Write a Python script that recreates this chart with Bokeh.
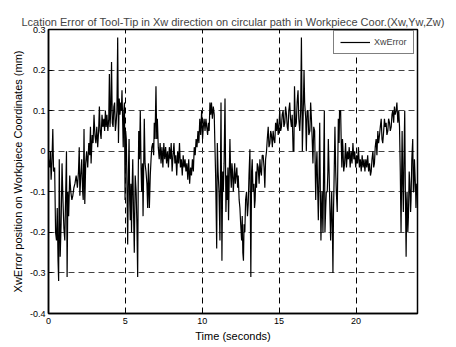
from bokeh.plotting import figure
from bokeh.models import FixedTicker, Legend, LegendItem
from bokeh.embed import file_html
from bokeh.resources import INLINE

# Tool-tip location error in Xw (mm) versus time (s)
time_s = [
    0.00, 0.08, 0.12, 0.17, 0.22, 0.28, 0.33, 0.40, 0.46, 0.52, 0.57, 0.62, 0.66, 0.70, 0.76, 0.82,
    0.88, 0.94, 1.00, 1.06, 1.12, 1.17, 1.21, 1.26, 1.31, 1.38, 1.45, 1.52, 1.58, 1.65, 1.72, 1.80,
    1.88, 1.95, 2.00, 2.04, 2.10, 2.16, 2.22, 2.26, 2.31, 2.36, 2.42, 2.48, 2.55, 2.62, 2.68, 2.73,
    2.77, 2.84, 2.90, 2.96, 3.02, 3.08, 3.14, 3.20, 3.26, 3.31, 3.36, 3.42, 3.48, 3.54, 3.60, 3.65,
    3.70, 3.75, 3.80, 3.86, 3.92, 3.96, 4.00, 4.05, 4.10, 4.15, 4.20, 4.25, 4.30, 4.35, 4.40, 4.45,
    4.50, 4.55, 4.60, 4.65, 4.70, 4.74, 4.78, 4.82, 4.86, 4.90, 4.94, 4.98, 5.02, 5.06, 5.11, 5.15,
    5.20, 5.24, 5.28, 5.32, 5.36, 5.40, 5.44, 5.48, 5.53, 5.58, 5.64, 5.70, 5.75, 5.80, 5.84, 5.87,
    5.92, 5.97, 6.02, 6.06, 6.11, 6.15, 6.19, 6.23, 6.28, 6.34, 6.40, 6.45, 6.50, 6.56, 6.62, 6.67,
    6.72, 6.78, 6.84, 6.88, 6.93, 6.99, 7.04, 7.08, 7.14, 7.20, 7.26, 7.32, 7.38, 7.44, 7.50, 7.56,
    7.62, 7.68, 7.74, 7.80, 7.86, 7.92, 7.98, 8.04, 8.10, 8.16, 8.22, 8.28, 8.34, 8.40, 8.46, 8.52,
    8.58, 8.64, 8.70, 8.76, 8.82, 8.88, 8.94, 9.00, 9.06, 9.12, 9.18, 9.24, 9.30, 9.36, 9.42, 9.48,
    9.54, 9.60, 9.66, 9.72, 9.78, 9.84, 9.90, 9.96, 10.02, 10.07, 10.12, 10.18, 10.24, 10.29, 10.35, 10.40,
    10.45, 10.50, 10.55, 10.60, 10.66, 10.72, 10.78, 10.82, 10.87, 10.94, 10.98, 11.03, 11.09, 11.15, 11.22, 11.28,
    11.33, 11.37, 11.42, 11.48, 11.54, 11.59, 11.63, 11.67, 11.71, 11.76, 11.80, 11.85, 11.89, 11.93, 11.97, 12.02,
    12.06, 12.11, 12.15, 12.20, 12.25, 12.30, 12.34, 12.40, 12.45, 12.50, 12.56, 12.60, 12.64, 12.68, 12.72, 12.77,
    12.82, 12.88, 12.94, 12.99, 13.04, 13.10, 13.16, 13.21, 13.25, 13.30, 13.36, 13.40, 13.44, 13.49, 13.53, 13.58,
    13.64, 13.70, 13.75, 13.80, 13.85, 13.90, 13.96, 14.02, 14.07, 14.12, 14.18, 14.23, 14.29, 14.34, 14.40, 14.45,
    14.50, 14.56, 14.61, 14.66, 14.72, 14.77, 14.83, 14.88, 14.94, 15.00, 15.04, 15.10, 15.15, 15.20, 15.26, 15.31,
    15.37, 15.42, 15.48, 15.53, 15.58, 15.63, 15.69, 15.74, 15.80, 15.85, 15.91, 15.96, 16.00, 16.06, 16.12, 16.17,
    16.23, 16.28, 16.34, 16.40, 16.45, 16.51, 16.56, 16.62, 16.66, 16.73, 16.77, 16.82, 16.88, 16.93, 17.00, 17.05,
    17.10, 17.15, 17.20, 17.25, 17.31, 17.38, 17.42, 17.46, 17.50, 17.55, 17.60, 17.64, 17.68, 17.72, 17.76, 17.79,
    17.85, 17.90, 17.94, 17.98, 18.03, 18.07, 18.13, 18.17, 18.20, 18.25, 18.29, 18.35, 18.39, 18.42, 18.46, 18.50,
    18.54, 18.57, 18.63, 18.68, 18.72, 18.78, 18.82, 18.85, 18.90, 18.93, 19.00, 19.04, 19.08, 19.12, 19.15, 19.20,
    19.26, 19.32, 19.38, 19.44, 19.50, 19.56, 19.62, 19.68, 19.74, 19.80, 19.86, 19.92, 19.98, 20.04, 20.10, 20.16,
    20.22, 20.28, 20.34, 20.40, 20.46, 20.52, 20.58, 20.64, 20.70, 20.76, 20.82, 20.88, 20.94, 20.99, 21.04, 21.10,
    21.15, 21.20, 21.25, 21.31, 21.36, 21.42, 21.47, 21.53, 21.58, 21.64, 21.69, 21.74, 21.80, 21.85, 21.90, 21.96,
    22.01, 22.07, 22.12, 22.18, 22.23, 22.29, 22.34, 22.39, 22.45, 22.50, 22.55, 22.61, 22.66, 22.72, 22.78, 22.83,
    22.88, 22.93, 22.97, 23.00, 23.04, 23.08, 23.12, 23.17, 23.21, 23.26, 23.30, 23.32, 23.37, 23.41, 23.46, 23.50,
    23.55, 23.58, 23.63, 23.69, 23.73, 23.76, 23.80, 23.84, 23.88, 23.90, 23.95, 24.00,
]

xw_error = [
    -0.02, -0.04, 0.00, -0.07, -0.03, 0.055, -0.05, -0.04, -0.20, -0.22, -0.14, -0.27, -0.32, -0.02, -0.26, -0.18,
    -0.03, -0.12, -0.19, -0.22, -0.10, 0.00, -0.31, -0.10, -0.16, -0.06, -0.10, -0.12, -0.11, -0.09, -0.08, -0.06,
    -0.09, -0.05, 0.01, -0.11, -0.06, -0.02, -0.10, -0.12, 0.055, -0.13, -0.03, 0.00, -0.04, 0.02, -0.01, 0.06,
    -0.03, 0.04, 0.02, 0.09, 0.04, 0.02, 0.06, 0.01, 0.05, 0.11, 0.05, 0.03, 0.09, 0.06, 0.08, 0.05,
    0.10, 0.06, 0.09, 0.05, 0.08, 0.19, 0.06, 0.10, 0.22, 0.07, 0.06, 0.11, 0.12, 0.05, 0.07, 0.10,
    0.28, 0.02, 0.13, 0.09, 0.12, 0.10, 0.15, 0.08, 0.01, 0.10, 0.12, -0.12, 0.05, 0.03, -0.10, -0.23,
    -0.05, 0.03, -0.12, -0.17, -0.08, -0.20, -0.09, -0.02, -0.15, -0.25, -0.06, -0.10, -0.18, -0.31, -0.05, 0.05,
    -0.02, 0.10, -0.04, -0.10, -0.03, -0.16, -0.04, 0.08, -0.03, -0.05, -0.08, -0.14, -0.03, -0.14, -0.06, -0.02,
    0.01, 0.02, -0.01, 0.07, 0.03, 0.16, 0.03, 0.08, 0.01, -0.02, 0.02, -0.03, 0.01, -0.04, 0.02, -0.02,
    0.01, -0.03, 0.00, -0.04, 0.01, -0.02, 0.02, -0.05, -0.01, 0.02, -0.03, -0.01, -0.06, 0.00, -0.03, 0.02,
    -0.04, -0.02, -0.06, -0.01, -0.04, -0.02, -0.05, -0.03, -0.07, -0.02, -0.08, -0.04, -0.06, -0.02, -0.05, 0.01,
    -0.01, 0.03, 0.01, 0.05, 0.02, 0.08, 0.04, 0.10, 0.03, 0.06, 0.08, 0.05, 0.08, 0.06, 0.04, 0.07,
    0.05, 0.12, 0.09, 0.12, 0.08, 0.11, 0.09, 0.02, -0.06, -0.24, 0.02, -0.05, -0.10, -0.22, 0.12, -0.27,
    -0.05, -0.10, -0.03, 0.13, -0.15, -0.06, -0.12, -0.04, -0.17, -0.05, 0.03, -0.06, -0.09, -0.03, -0.05, -0.10,
    -0.07, -0.03, -0.08, -0.06, -0.04, -0.09, -0.06, -0.12, -0.14, -0.18, -0.22, -0.16, -0.25, -0.27, -0.18, -0.20,
    -0.12, -0.10, -0.16, -0.13, -0.06, 0.005, -0.31, -0.05, -0.02, -0.10, -0.08, -0.14, -0.12, -0.05, -0.09, -0.03,
    -0.04, -0.08, -0.02, -0.05, -0.06, -0.01, -0.01, -0.04, -0.09, -0.02, 0.00, 0.03, 0.06, 0.01, 0.02, 0.05,
    0.04, 0.01, 0.05, 0.03, 0.02, 0.07, 0.05, 0.08, 0.04, 0.07, 0.10, 0.05, 0.06, 0.09, 0.10, 0.06,
    0.07, 0.11, 0.09, 0.06, 0.05, 0.10, 0.12, 0.08, 0.06, 0.09, 0.00, 0.00, 0.16, 0.06, 0.07, 0.12,
    0.15, 0.08, 0.05, 0.10, 0.28, 0.00, 0.08, 0.20, 0.12, 0.08, 0.00, 0.10, 0.10, 0.04, 0.05, 0.12,
    0.08, 0.03, -0.03, 0.06, 0.05, -0.12, -0.04, 0.00, -0.08, -0.17, -0.05, 0.07, -0.10, -0.22, -0.14, -0.10,
    -0.20, -0.02, 0.10, -0.20, -0.14, -0.10, -0.10, -0.05, 0.03, -0.05, -0.12, -0.22, -0.15, -0.10, -0.18, -0.30,
    -0.14, -0.08, 0.06, -0.05, -0.10, -0.15, -0.02, 0.08, 0.02, 0.10, 0.10, 0.02, -0.04, 0.03, 0.01, -0.05,
    -0.03, 0.02, -0.04, 0.00, -0.02, 0.01, -0.04, 0.00, -0.03, 0.02, -0.02, 0.00, -0.04, -0.01, -0.03, 0.01,
    -0.04, -0.02, -0.05, -0.01, -0.04, -0.02, -0.05, -0.02, -0.04, -0.01, -0.05, -0.03, -0.06, -0.05, -0.02, 0.00,
    -0.04, -0.03, 0.01, 0.03, -0.01, 0.05, 0.02, 0.04, 0.06, 0.08, 0.03, 0.02, 0.05, 0.08, 0.06, 0.07,
    0.04, 0.05, 0.08, 0.07, 0.05, 0.06, 0.09, 0.10, 0.07, 0.11, 0.09, 0.10, 0.12, 0.07, 0.10, 0.06,
    -0.05, -0.20, -0.05, 0.05, -0.08, -0.15, -0.02, 0.10, -0.10, -0.26, -0.12, -0.10, -0.20, -0.16, -0.05, -0.08,
    -0.15, -0.12, -0.02, 0.03, -0.10, -0.10, -0.02, -0.06, -0.10, -0.14, -0.08, -0.10,
]

x_ticks = [0, 5, 10, 15, 20]
y_ticks = [-0.4, -0.3, -0.2, -0.1, 0.0, 0.1, 0.2, 0.3]
y_tick_labels = ["-0.4", "-0.3", "-0.2", "-0.1", "0", "0.1", "0.2", "0.3"]

FONT = "Liberation Sans"

p = figure(
    width=456, height=347,
    x_range=(0, 24), y_range=(-0.4, 0.3),
    output_backend="svg", toolbar_location=None,
    min_border_left=48, min_border_right=39, min_border_top=29, min_border_bottom=34,
    background_fill_color="white", border_fill_color="white",
)

p.title.text = "Lcation Error of Tool-Tip in Xw direction on circular path in Workpiece Coor.(Xw,Yw,Zw)"
p.title.text_font = FONT
p.title.text_font_size = "11px"
p.title.text_font_style = "normal"
p.title.align = "center"
p.title.offset = 0
p.title.standoff = 4

line = p.line(time_s, xw_error, line_color="black", line_width=1.2)

p.xaxis.ticker = FixedTicker(ticks=x_ticks)
p.yaxis.ticker = FixedTicker(ticks=y_ticks)
p.yaxis.major_label_overrides = dict(zip(y_ticks, y_tick_labels))

for ax in (p.xaxis[0], p.yaxis[0]):
    ax.major_tick_in = 4
    ax.major_tick_out = 0
    ax.minor_tick_in = 0
    ax.minor_tick_out = 0
    ax.axis_line_width = 1.5
    ax.axis_line_color = "black"
    ax.major_tick_line_color = "black"
    ax.major_label_text_font = FONT
    ax.major_label_text_font_size = "9px"
    ax.major_label_text_color = "black"
    ax.axis_label_text_font = FONT
    ax.axis_label_text_font_size = "11px"
    ax.axis_label_text_font_style = "normal"
    ax.axis_label_text_color = "black"

p.xaxis.axis_label = "Time (seconds)"
p.yaxis.axis_label = "XwError position on Workpiece Coordinates (mm)"
p.xaxis.major_label_standoff = 4
p.yaxis.major_label_standoff = 3
p.xaxis.axis_label_standoff = 3
p.yaxis.axis_label_standoff = 3

p.xgrid.grid_line_color = "black"
p.xgrid.grid_line_dash = "6 4"
p.xgrid.grid_line_width = 1
p.ygrid.grid_line_color = "#444444"
p.ygrid.grid_line_dash = "6 4"
p.ygrid.grid_line_width = 1

p.outline_line_color = "black"
p.outline_line_width = 1.5

legend = Legend(
    items=[LegendItem(label="XwError", renderers=[line])],
    location=(285, 259),
    label_text_font=FONT, label_text_font_size="9px",
    glyph_width=30, glyph_height=10,
    label_standoff=4, padding=6, spacing=0, margin=0,
    border_line_color="black", border_line_width=1,
    background_fill_color="white", background_fill_alpha=1,
)
p.add_layout(legend)

open("out.html", "w").write(file_html(p, INLINE))
